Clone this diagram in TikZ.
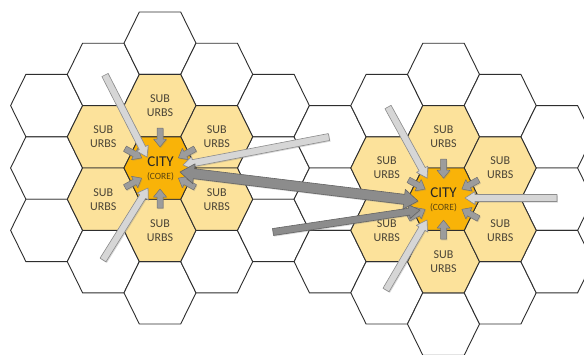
\documentclass[tikz,border=0pt]{standalone}
\usepackage{fontspec}
\setmainfont{Carlito}
\usetikzlibrary{calc,shadows}
\definecolor{suburb}{HTML}{FCE29B}
\definecolor{citycol}{HTML}{F9B308}
\definecolor{hexline}{HTML}{2E2E2E}
\definecolor{lightarr}{HTML}{D6D6D6}
\definecolor{lightarrline}{HTML}{8C8C8C}
\definecolor{darkarr}{HTML}{8C8C8C}
\definecolor{darkarrline}{HTML}{636363}
\definecolor{smallarr}{HTML}{9C9C9C}
\definecolor{smallarrline}{HTML}{717171}
\definecolor{subtext}{HTML}{4A4436}
\definecolor{coretext}{HTML}{5A4410}
\tikzset{
  hexstyle/.style={draw=hexline, line width=0.9pt, line join=miter},
  subtxt/.style={align=center, text=subtext, inner sep=0pt, font=\fontsize{12}{14}\selectfont},
  citytxt/.style={align=center, inner sep=0pt, text=black!85},
  arrshadow/.style={drop shadow={opacity=0.3, shadow xshift=0.9pt, shadow yshift=-1.1pt}},
  lightarrow/.style={fill=lightarr, draw=lightarrline, line width=0.6pt, line join=round, arrshadow},
  darkarrow/.style={fill=darkarr, draw=darkarrline, line width=0.6pt, line join=round, arrshadow},
  smallarrow/.style={fill=smallarr, draw=smallarrline, line width=0.5pt, line join=round, arrshadow}
}
% single block arrow: style, from, to, half shaft, half head, head length
\newcommand{\blockarrow}[6]{%
  \coordinate (bq) at ($(#3)!#6!(#2)$);
  \path[#1] ($(#2)!#4!90:(#3)$) -- ($(bq)!#4!90:(#3)$) -- ($(bq)!#5!90:(#3)$) -- (#3)
     -- ($(bq)!#5!-90:(#3)$) -- ($(bq)!#4!-90:(#3)$) -- ($(#2)!#4!-90:(#3)$) -- cycle;}
% double block arrow
\newcommand{\dblarrow}[6]{%
  \coordinate (bp) at ($(#2)!#6!(#3)$);
  \coordinate (bq) at ($(#3)!#6!(#2)$);
  \path[#1] (#2) -- ($(bp)!#5!90:(#3)$) -- ($(bp)!#4!90:(#3)$) -- ($(bq)!#4!90:(#3)$)
     -- ($(bq)!#5!90:(#3)$) -- (#3) -- ($(bq)!#5!-90:(#3)$) -- ($(bq)!#4!-90:(#3)$)
     -- ($(bp)!#4!-90:(#3)$) -- ($(bp)!#5!-90:(#3)$) -- cycle;}
\newcommand{\hexat}[3]{%
  \path[hexstyle, fill=#3, shift={(#1,#2)}] (-36,0) -- (-20.7,-31.2) -- (20.7,-31.2)
     -- (36,0) -- (20.7,31.2) -- (-20.7,31.2) -- cycle;}
\begin{document}
\begin{tikzpicture}[x=1pt, y=-1pt]
\useasboundingbox (0,0) rectangle (584,354);
\fill[white] (0,0) rectangle (584,354);
\begin{scope}
\clip (0,0) rectangle (584,354);
% white hexagons
\foreach \i/\yy in {-2/105.6, -2/168, -2/230.4, -1/74.4, -1/261.6, 0/43.2, 0/292.8,
   1/74.4, 1/261.6, 2/105.6, 2/168, 2/230.4, 3/136.8, 3/199.2, 3/261.6,
   4/105.6, 4/292.8, 5/74.4, 5/324, 6/105.6, 6/292.8, 7/136.8, 7/199.2, 7/261.6}{
  \pgfmathsetmacro\hx{160+56.7*\i}
  \hexat{\hx}{\yy}{white}}
% suburb hexagons
\foreach \i/\yy in {0/105.6, 0/230.4, -1/136.8, -1/199.2, 1/136.8, 1/199.2,
   5/136.8, 5/261.6, 4/168, 4/230.4, 6/168, 6/230.4}{
  \pgfmathsetmacro\hx{160+56.7*\i}
  \hexat{\hx}{\yy}{suburb}}
% city hexagons
\hexat{160}{168}{citycol}
\hexat{443.5}{199.2}{citycol}

% suburb labels
\node[subtxt] (sL1) at (160,105.6) {SUB\\URBS};
\node[subtxt] (sL2) at (216.7,136.8) {SUB\\URBS};
\node[subtxt] (sL3) at (216.7,199.2) {SUB\\URBS};
\node[subtxt] (sL4) at (160,230.4) {SUB\\URBS};
\node[subtxt] (sL5) at (103.3,199.2) {SUB\\URBS};
\node[subtxt] (sL6) at (103.3,136.8) {SUB\\URBS};
\node[subtxt] (sR1) at (443.5,136.8) {SUB\\URBS};
\node[subtxt] (sR2) at (500.2,168) {SUB\\URBS};
\node[subtxt] (sR3) at (500.2,230.4) {SUB\\URBS};
\node[subtxt] (sR4) at (443.5,261.6) {SUB\\URBS};
\node[subtxt] (sR5) at (386.8,230.4) {SUB\\URBS};
\node[subtxt] (sR6) at (386.8,168) {SUB\\URBS};
% city labels
\coordinate (cL) at (160,168);
\coordinate (cR) at (443.5,199.2);
\node[citytxt] (cityL) at (160.5,169) {{\fontsize{15}{16}\selectfont CITY}\\[1pt]{\fontsize{9.5}{10}\selectfont\color{coretext}(CORE)}};
\node[citytxt] (cityR) at (443.5,200) {{\fontsize{15}{16}\selectfont CITY}\\[1pt]{\fontsize{9.5}{10}\selectfont\color{coretext}(CORE)}};

% small inward arrows
\foreach \s in {sL1,sL2,sL3,sL4,sL5,sL6}{
  \coordinate (st) at ($(cL)!40pt!(\s)$);
  \coordinate (se) at ($(cL)!21pt!(\s)$);
  \blockarrow{smallarrow}{st}{se}{3pt}{6.5pt}{8pt}}
\foreach \s in {sR1,sR2,sR3,sR4,sR5,sR6}{
  \coordinate (st) at ($(cR)!40pt!(\s)$);
  \coordinate (se) at ($(cR)!21pt!(\s)$);
  \blockarrow{smallarrow}{st}{se}{3pt}{6.5pt}{8pt}}

% long arrows
\coordinate (la1s) at (105,75);   \coordinate (la1e) at (147,157);
\coordinate (la2s) at (103,260);  \coordinate (la2e) at (148,188);
\coordinate (la3s) at (329,137);  \coordinate (la3e) at (183,165);
\coordinate (ra1s) at (388,107);  \coordinate (ra1e) at (427,178);
\coordinate (ra2s) at (386,290);  \coordinate (ra2e) at (427,220);
\coordinate (ra3s) at (557,198);  \coordinate (ra3e) at (465,198);
\coordinate (dbl1) at (180,172);  \coordinate (dbl2) at (418,201);
\coordinate (dks) at (273,232);   \coordinate (dke) at (420,210);

\blockarrow{lightarrow}{la1s}{la1e}{3.5pt}{6.5pt}{10pt}
\blockarrow{lightarrow}{la2s}{la2e}{3.5pt}{6.5pt}{10pt}
\blockarrow{lightarrow}{la3s}{la3e}{3.5pt}{6.5pt}{10pt}
\blockarrow{lightarrow}{ra1s}{ra1e}{3.5pt}{6.5pt}{10pt}
\blockarrow{lightarrow}{ra2s}{ra2e}{3.5pt}{6.5pt}{10pt}
\blockarrow{lightarrow}{ra3s}{ra3e}{3.5pt}{6.5pt}{10pt}
\blockarrow{darkarrow}{dks}{dke}{3.5pt}{7pt}{11pt}
\dblarrow{darkarrow}{dbl1}{dbl2}{5pt}{10pt}{14pt}
\end{scope}
\end{tikzpicture}
\end{document}
